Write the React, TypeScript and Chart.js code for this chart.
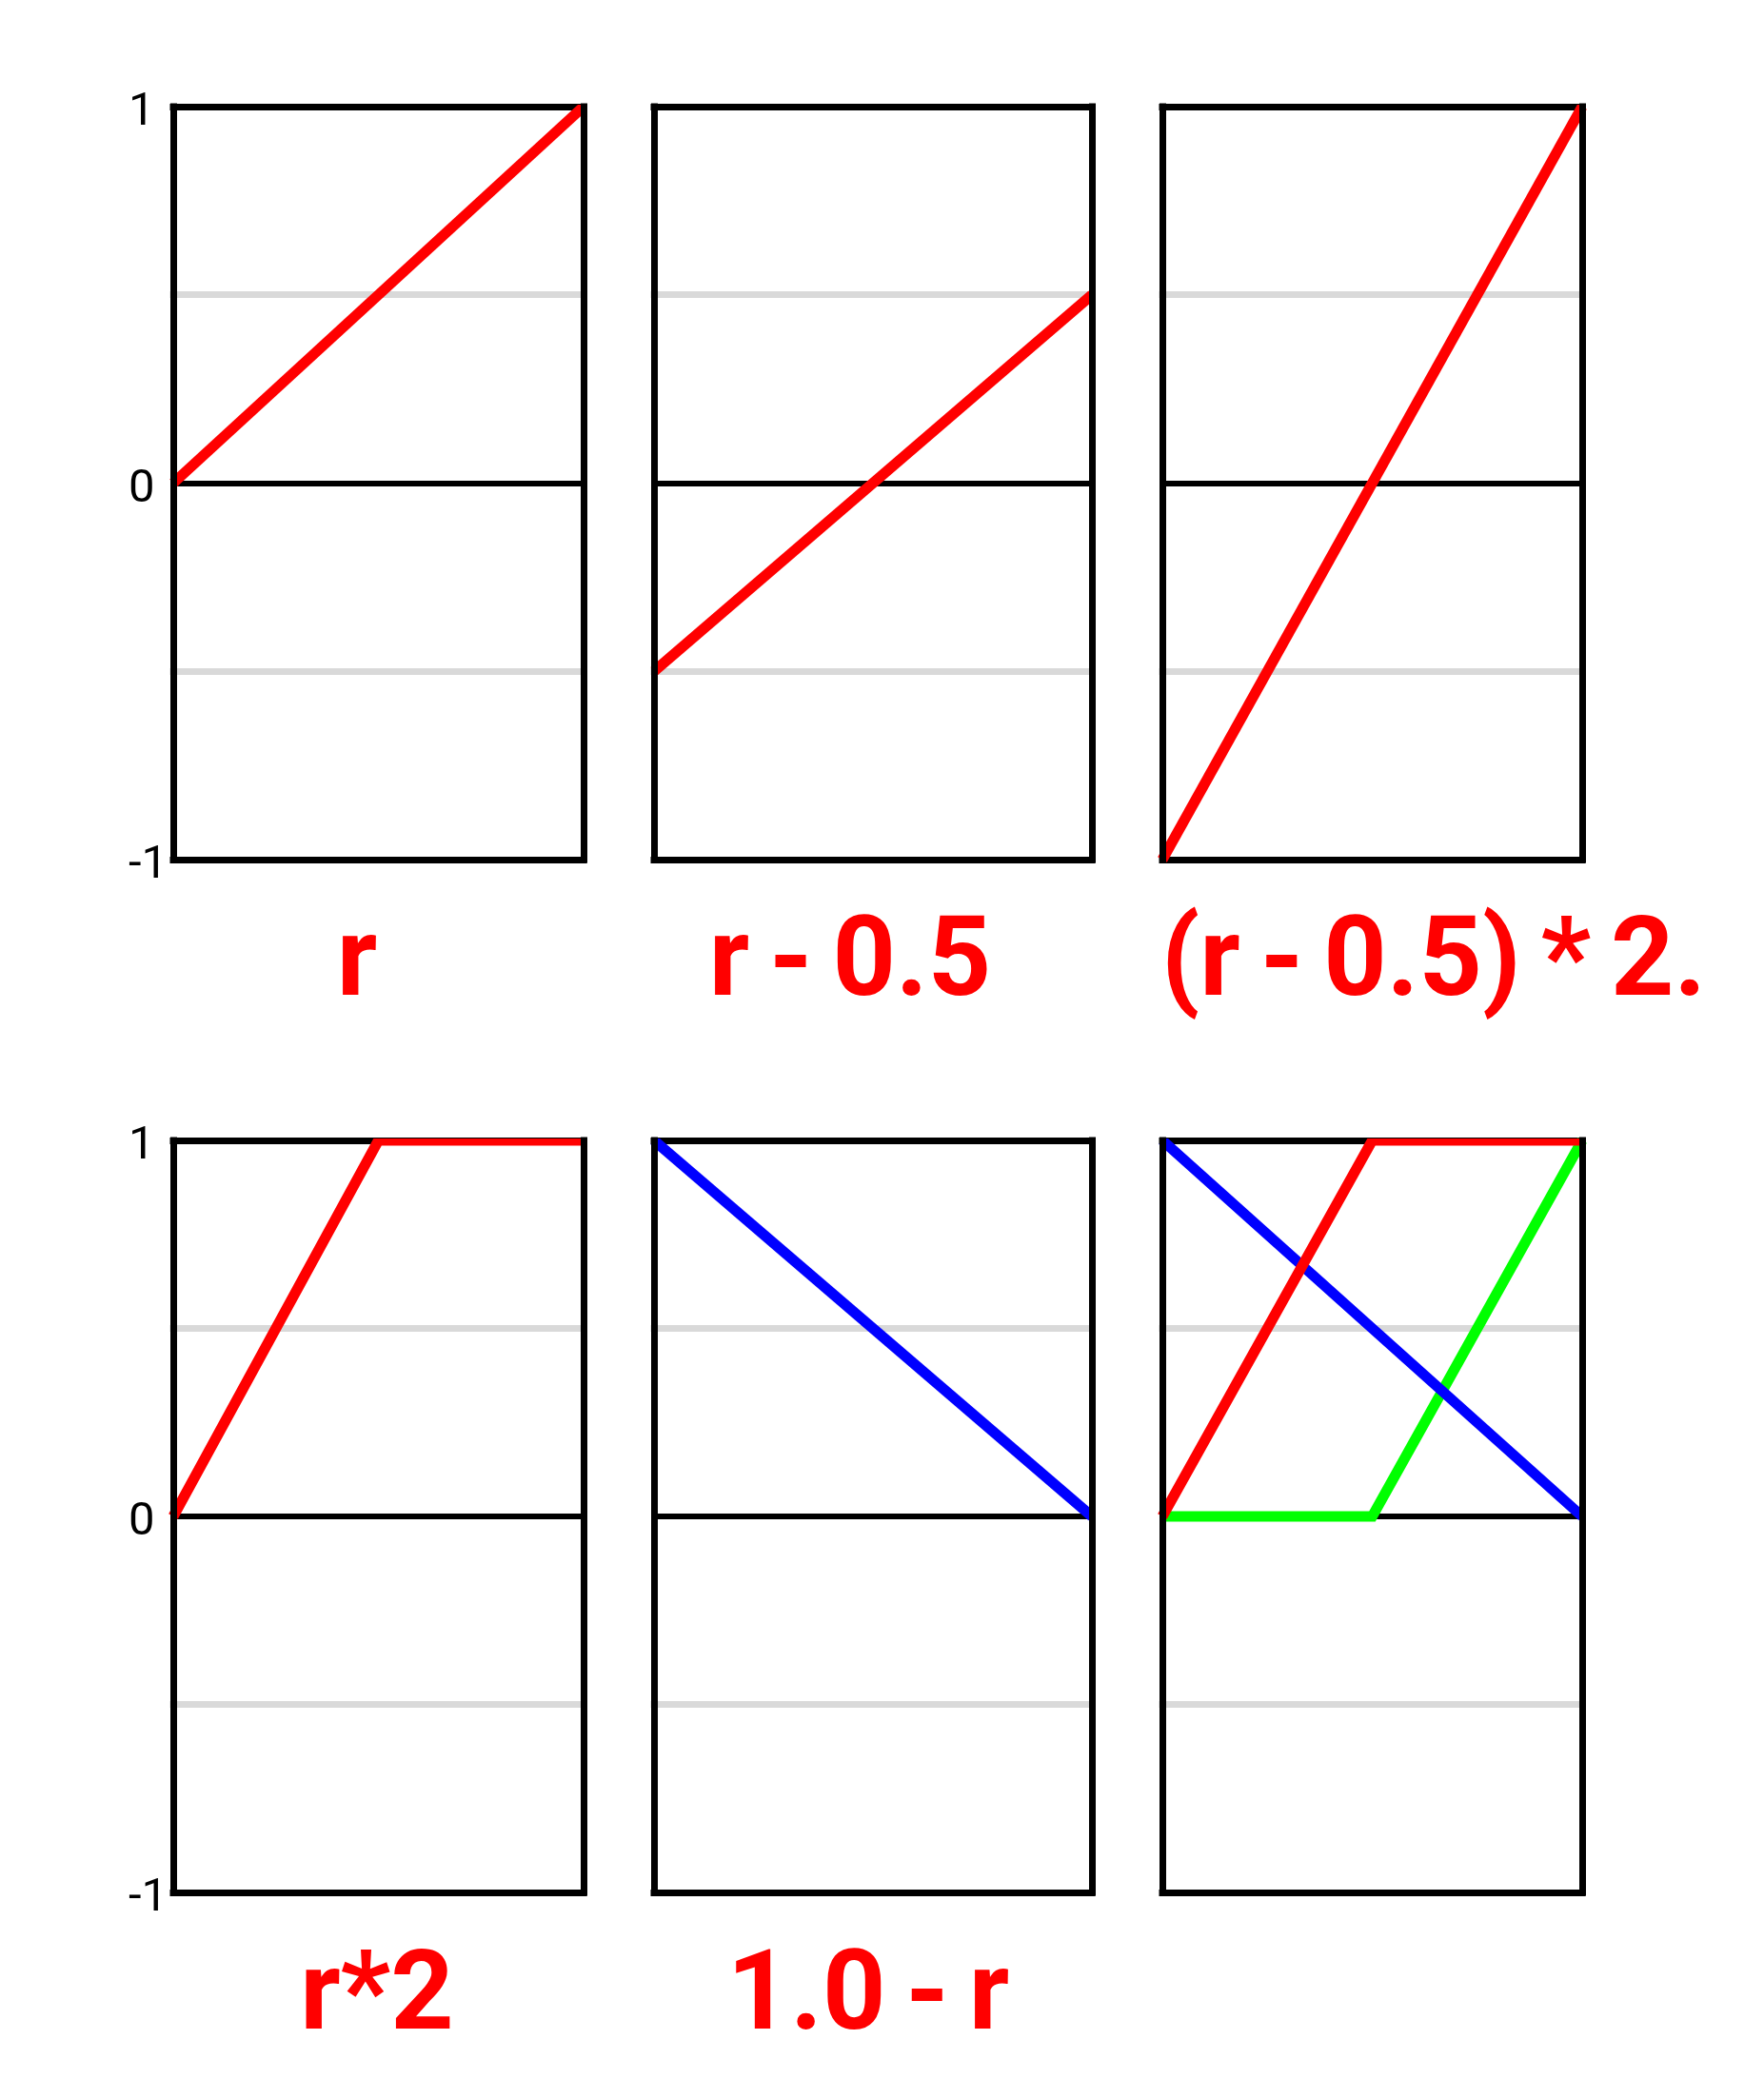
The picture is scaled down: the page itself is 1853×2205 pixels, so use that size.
import React, { useEffect, useRef } from 'react';
import { Chart, registerables } from 'chart.js';

Chart.register(...registerables);

// ---- data ----
const xValues = [0, 0.5, 1];
const seriesR = [0, 0.5, 1];
const seriesRMinusHalf = [-0.5, 0, 0.5];
const seriesRMinusHalfTimes2 = [-1, 0, 1];
const seriesRTimes2 = [0, 1, 1];
const seriesOneMinusR = [1, 0.5, 0];
const seriesShiftedTimes2 = [0, 0, 1];
const yTickValues = [-1, -0.5, 0, 0.5, 1];
const yTickLabels = ['-1', '', '0', '', '1'];
const xBorderValues = [0, 1];
const panelTitles = ['r', 'r - 0.5', '(r - 0.5) * 2.', 'r*2', '1.0 - r', ''];

// ---- styles / layout ----
const RED = '#ff0000';
const BLUE = '#0000ff';
const GREEN = '#00ff00';
const GRID_GREY = '#d9d9d9';

const colLeft = [182, 687, 1221];
const colRight = [613, 1147, 1662];
const rowTop = [112, 1198];
const rowBottom = [903, 1988];
const titleCenter = [375, 893, 1506, 396, 912, 0];
const titleBaseline = [1045, 2131];
const PAD_X = 10;
const PAD_Y = 40;
const AXIS_W = 47;
const TITLE_SIZE = 116;
const LABEL_SHIFT_LINE = 14; // px line height used to nudge tick labels down

type Series = { values: number[]; color: string; width: number; clipTop: number };

const panelSeries: Series[][] = [
  [{ values: seriesR, color: RED, width: 11, clipTop: 2 }],
  [{ values: seriesRMinusHalf, color: RED, width: 11, clipTop: 2 }],
  [{ values: seriesRMinusHalfTimes2, color: RED, width: 11, clipTop: 2 }],
  [{ values: seriesRTimes2, color: RED, width: 11, clipTop: 2 }],
  [{ values: seriesOneMinusR, color: BLUE, width: 11, clipTop: 2 }],
  [
    { values: seriesRTimes2, color: RED, width: 11, clipTop: 2 },
    { values: seriesOneMinusR, color: BLUE, width: 11, clipTop: 2 },
    { values: seriesShiftedTimes2, color: GREEN, width: 11, clipTop: 8 },
  ],
];

const squareCaps = {
  id: 'squareCaps',
  beforeDraw(chart: any) {
    chart.ctx.lineCap = 'square';
  },
};

function Panel({ index }: { index: number }) {
  const ref = useRef<HTMLCanvasElement>(null);
  const col = index % 3;
  const row = Math.floor(index / 3);
  const showLabels = col === 0;
  const axisW = showLabels ? AXIS_W : 0;
  const left = colLeft[col] - axisW - PAD_X;
  const width = colRight[col] - colLeft[col] + axisW + 2 * PAD_X;
  const top = rowTop[row] - PAD_Y;
  const height = rowBottom[row] - rowTop[row] + 2 * PAD_Y;

  useEffect(() => {
    const canvas = ref.current!;
    const chart = new Chart(canvas, {
      type: 'line',
      data: {
        datasets: panelSeries[index].map((s) => ({
          data: xValues.map((x, i) => ({ x, y: s.values[i] })),
          borderColor: s.color,
          borderWidth: s.width,
          borderCapStyle: 'butt',
          borderJoinStyle: 'miter',
          pointRadius: 0,
          pointHoverRadius: 0,
          tension: 0,
          fill: false,
          clip: { left: 6, top: s.clipTop, right: 8, bottom: 6 },
        })),
      },
      options: {
        animation: false,
        responsive: false,
        devicePixelRatio: 1,
        events: [],
        layout: { padding: { left: PAD_X, right: PAD_X, top: PAD_Y, bottom: PAD_Y } },
        plugins: {
          legend: { display: false },
          tooltip: { enabled: false },
          title: { display: false },
        },
        scales: {
          x: {
            type: 'linear',
            min: 0,
            max: 1,
            afterBuildTicks: (s: any) => {
              s.ticks = xBorderValues.map((v) => ({ value: v }));
            },
            afterFit: (s: any) => {
              s.height = 0;
            },
            ticks: { display: false },
            grid: { color: '#000', lineWidth: 7, drawTicks: false, z: 1 },
            border: { display: false },
          },
          y: {
            type: 'linear',
            min: -1,
            max: 1,
            afterBuildTicks: (s: any) => {
              s.ticks = yTickValues.map((v) => ({ value: v }));
            },
            afterFit: (s: any) => {
              s.width = axisW;
            },
            ticks: {
              display: showLabels,
              crossAlign: 'far',
              padding: 0,
              color: '#000',
              font: { family: 'Roboto', size: 49, lineHeight: `${LABEL_SHIFT_LINE}px` },
              callback: (_v: any, i: number) => (yTickLabels[i] ? ['', yTickLabels[i]] : ''),
            },
            grid: {
              color: (c: any) => (Math.abs(c.tick.value) === 0.5 ? GRID_GREY : '#000'),
              lineWidth: (c: any) => (c.tick.value === 0 ? 6 : 7),
              drawTicks: false,
            },
            border: { display: false },
          },
        },
      } as any,
      plugins: [squareCaps],
    } as any);
    return () => chart.destroy();
  }, []);

  return (
    <canvas
      ref={ref}
      width={width}
      height={height}
      style={{ position: 'absolute', left, top, width, height }}
    />
  );
}

function Title({ index }: { index: number }) {
  const text = panelTitles[index];
  if (!text) return null;
  const row = Math.floor(index / 3);
  const top = titleBaseline[row] - Math.round(TITLE_SIZE * 0.842);
  return (
    <div
      style={{
        position: 'absolute',
        left: titleCenter[index],
        top,
        transform: 'translateX(-50%)',
        fontFamily: 'Roboto',
        fontWeight: 700,
        fontSize: TITLE_SIZE,
        lineHeight: `${TITLE_SIZE}px`,
        wordSpacing: '-8px',
        color: RED,
        whiteSpace: 'pre',
      }}
    >
      {text}
    </div>
  );
}

export default function App() {
  return (
    <div
      style={{
        position: 'absolute',
        left: 0,
        top: 0,
        width: 1853,
        height: 2205,
        background: '#fff',
        overflow: 'hidden',
      }}
    >
      {panelSeries.map((_, i) => (
        <Panel key={'p' + i} index={i} />
      ))}
      {panelTitles.map((_, i) => (
        <Title key={'t' + i} index={i} />
      ))}
    </div>
  );
}
